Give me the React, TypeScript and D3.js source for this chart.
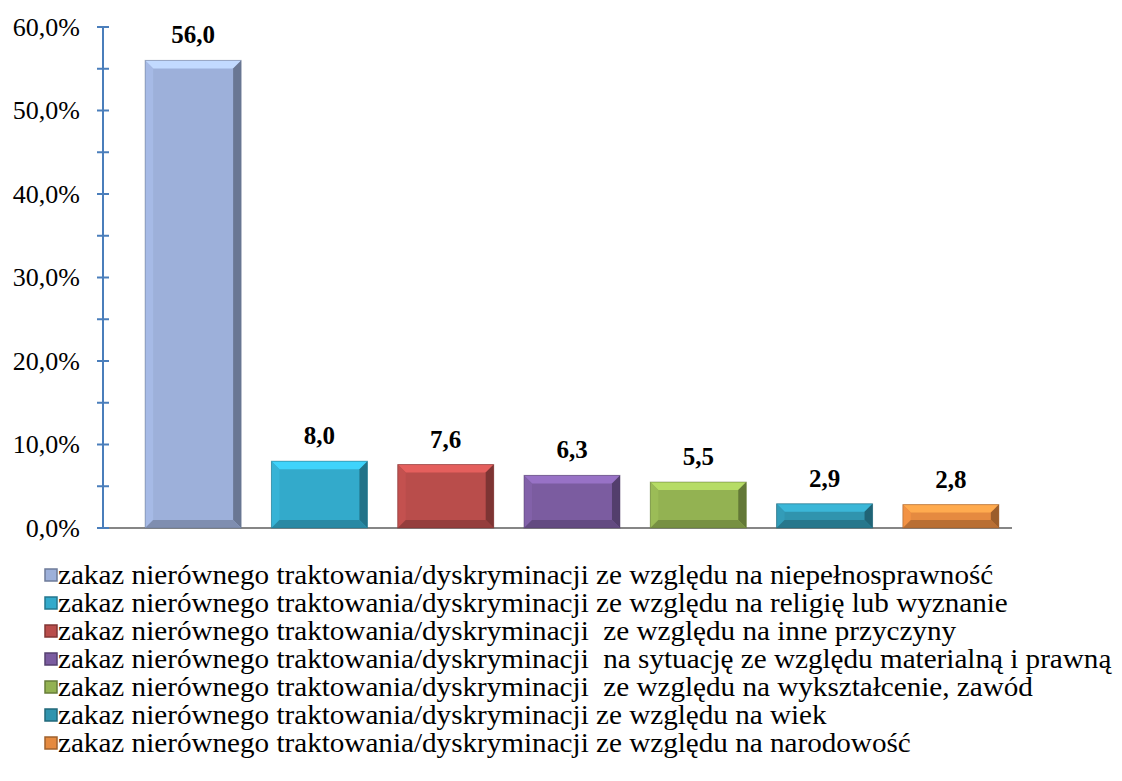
import * as d3 from 'd3';
import React, { useRef, useEffect } from 'react';

const categories = [
  'zakaz nierównego traktowania/dyskryminacji ze względu na niepełnosprawność',
  'zakaz nierównego traktowania/dyskryminacji ze względu na religię lub wyznanie',
  'zakaz nierównego traktowania/dyskryminacji  ze względu na inne przyczyny',
  'zakaz nierównego traktowania/dyskryminacji  na sytuację ze względu materialną i prawną',
  'zakaz nierównego traktowania/dyskryminacji  ze względu na wykształcenie, zawód',
  'zakaz nierównego traktowania/dyskryminacji ze względu na wiek',
  'zakaz nierównego traktowania/dyskryminacji ze względu na narodowość',
];
const values = [56.0, 8.0, 7.6, 6.3, 5.5, 2.9, 2.8];
const colors = ['#9db0da', '#33aacb', '#b94d4b', '#7b5ca0', '#93b252', '#3094ae', '#e58a40'];
const yTicks = [0, 10, 20, 30, 40, 50, 60];

const W = 1122, H = 781;
const font = "'Liberation Serif', 'Times New Roman', serif";

export default function App() {
  const svgRef = useRef(null);

  useEffect(() => {
    if (!svgRef.current) return;
    const svg = d3.select(svgRef.current);
    svg.selectAll('*').remove();

    const axisX = 103;
    const y = d3.scaleLinear().domain([0, 60]).range([528, 27]);
    const x = d3.scaleBand<number>()
      .domain(values.map((_, i) => i))
      .range([130, 1014])
      .paddingInner(0.24)
      .paddingOuter(0.12);

    // baseline
    svg.append('line')
      .attr('x1', axisX).attr('x2', 1012)
      .attr('y1', y(0)).attr('y2', y(0))
      .attr('stroke', '#868686').attr('stroke-width', 2);

    // bars with a bevel look
    const bw = x.bandwidth();
    const bev = 8;
    values.forEach((v, i) => {
      const x0 = x(i)!, x1 = x0 + bw;
      const y0 = y(v), y1 = y(0);
      const c = d3.color(colors[i])!;
      const g = svg.append('g');
      g.append('rect').attr('x', x0).attr('y', y0).attr('width', bw).attr('height', y1 - y0)
        .attr('fill', colors[i]);
      const b = Math.min(bev, (y1 - y0) / 2);
      const poly = (pts: number[][], fill: string) =>
        g.append('polygon').attr('points', pts.map(p => p.join(',')).join(' ')).attr('fill', fill);
      poly([[x0, y0], [x1, y0], [x1 - b, y0 + b], [x0 + b, y0 + b]], c.brighter(0.6).toString());
      poly([[x0, y0], [x0 + b, y0 + b], [x0 + b, y1 - b], [x0, y1]], c.brighter(0.15).toString());
      poly([[x1, y0], [x1, y1], [x1 - b, y1 - b], [x1 - b, y0 + b]], c.darker(1.1).toString());
      poly([[x0, y1], [x0 + b, y1 - b], [x1 - b, y1 - b], [x1, y1]], c.darker(0.6).toString());
      g.append('rect').attr('x', x0).attr('y', y0).attr('width', bw).attr('height', y1 - y0)
        .attr('fill', 'none').attr('stroke', c.darker(1.2).toString()).attr('stroke-opacity', 0.5);

      svg.append('text')
        .attr('x', x0 + bw / 2).attr('y', y0 - 17)
        .attr('text-anchor', 'middle')
        .style('font-family', font).attr('font-weight', 'bold').attr('font-size', 25)
        .text(v.toFixed(1).replace('.', ','));
    });

    // y axis
    const ax = svg.append('g');
    ax.append('line').attr('x1', axisX).attr('x2', axisX).attr('y1', y(60)).attr('y2', y(0))
      .attr('stroke', '#4a7ebb').attr('stroke-width', 2);
    d3.range(0, 61, 5).forEach(t => {
      ax.append('line').attr('x1', axisX - 6).attr('x2', axisX + 6)
        .attr('y1', y(t)).attr('y2', y(t))
        .attr('stroke', '#4a7ebb').attr('stroke-width', 2);
    });
    yTicks.forEach(t => {
      ax.append('text')
        .attr('x', 80).attr('y', y(t)).attr('dy', '0.33em')
        .attr('text-anchor', 'end')
        .style('font-family', font).attr('font-size', 26)
        .text(t.toFixed(1).replace('.', ',') + '%');
    });

    // legend
    categories.forEach((cat, i) => {
      const cy = 575 + i * 28;
      const c = d3.color(colors[i])!;
      svg.append('rect').attr('x', 45).attr('y', cy - 6).attr('width', 12).attr('height', 12)
        .attr('fill', colors[i]).attr('stroke', c.darker(1).toString()).attr('stroke-width', 1.5);
      svg.append('text')
        .attr('transform', `translate(58,${cy}) scale(1.1,1)`)
        .attr('dy', '0.33em')
        .style('font-family', font).attr('font-size', 26.5)
        .style('white-space', 'pre')
        .text(cat);
    });
  }, []);

  return (
    <svg ref={svgRef} width={W} height={H}
      style={{ position: 'absolute', left: 0, top: 0, background: '#fff' }} />
  );
}
